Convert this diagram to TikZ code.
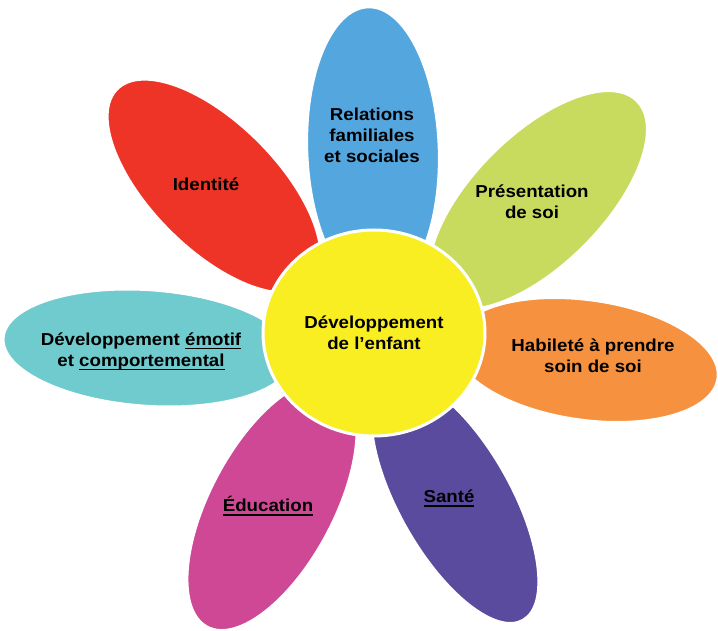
\documentclass[tikz,border=0pt]{standalone}
\usepackage{fontspec}
\setmainfont{Liberation Sans}[FakeStretch=1.08]
\usepackage{tikz}
\usetikzlibrary{shapes.geometric}

\definecolor{petalblue}{HTML}{54A6DE}
\definecolor{petalred}{HTML}{EE3427}
\definecolor{petalgreen}{HTML}{C9DB5E}
\definecolor{petalorange}{HTML}{F6923F}
\definecolor{petalpurple}{HTML}{5A4B9F}
\definecolor{petalpink}{HTML}{CE4896}
\definecolor{petalteal}{HTML}{6FCBCE}
\definecolor{hubyellow}{HTML}{F8EE22}

% underline that sits just below the baseline and adds no depth
\newsavebox\undlbox
\newcommand{\undl}[1]{\sbox\undlbox{#1}\rlap{\smash{\rule[-4.4pt]{\wd\undlbox}{1.8pt}}}\usebox\undlbox}

\begin{document}
\begin{tikzpicture}[
    x=1pt, y=1pt,
    petal/.style={fill=#1, draw=white, line width=2.5pt},
    hub/.style={draw=white, line width=3pt, fill=hubyellow, ellipse,
      minimum width=222pt, minimum height=206pt, inner sep=0pt},
    lbl/.style={font=\fontsize{17.3}{21}\selectfont\bfseries, text=black,
      align=center, inner sep=0pt},
  ]
  \useasboundingbox (0,0) rectangle (718,630);

  % petals, clockwise from the top
  \path[petal=petalblue]   (373,480) ellipse [x radius=143, y radius=66, rotate=92];
  \path[petal=petalgreen]  (538,430) ellipse [x radius=140, y radius=65, rotate=45];
  \path[petal=petalorange] (586,270) ellipse [x radius=133, y radius=60, rotate=-8];
  \path[petal=petalpurple] (455,130) ellipse [x radius=138, y radius=56, rotate=-60.5];
  \path[petal=petalpink]   (272,125) ellipse [x radius=138, y radius=62, rotate=-118];
  \path[petal=petalteal]   (148,282) ellipse [x radius=145, y radius=58, rotate=-4];
  \path[petal=petalred]    (214,444) ellipse [x radius=137, y radius=63, rotate=-45];

  % heart of the flower
  \node[hub, lbl] (hub) at (374,297) {Développement\\de l’enfant};

  % petal labels
  \node[lbl] (relations)    at (372,495) {Relations\\familiales\\et sociales};
  \node[lbl] (presentation) at (532,428) {Présentation\\de soi};
  \node[lbl] (habilete)     at (593,274) {Habileté à prendre\\soin de soi};
  \node[lbl] (sante)        at (449,134) {\undl{Santé}};
  \node[lbl] (education)    at (268,126) {\undl{Éducation}};
  \node[lbl] (emotif)       at (141,279) {Développement \undl{émotif}\\et \undl{comportemental}};
  \node[lbl] (identite)     at (206,446) {Identité};
\end{tikzpicture}
\end{document}
